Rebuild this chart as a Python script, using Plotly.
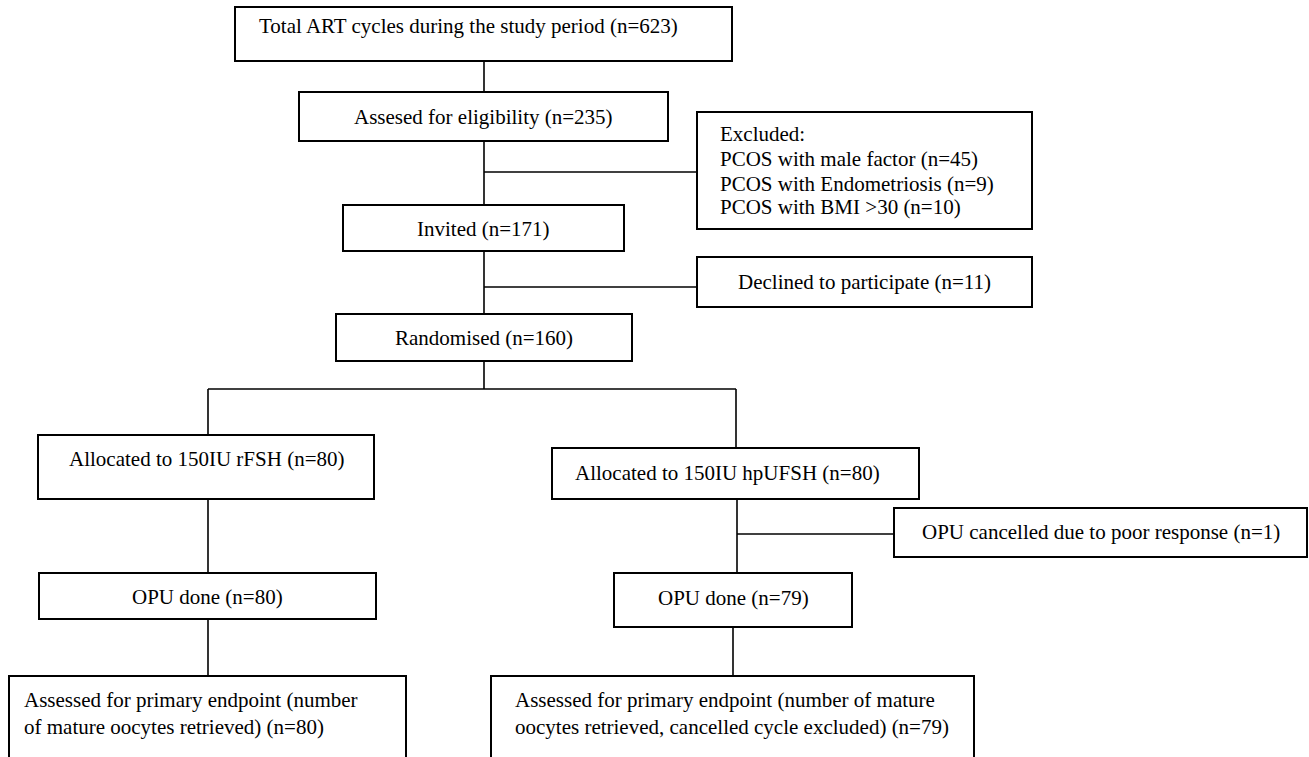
import plotly.graph_objects as go

# ---------------- data ----------------
stage_labels = [
    "Total ART cycles during the study period",
    "Assesed for eligibility",
    "Invited",
    "Randomised",
    "Allocated to 150IU rFSH",
    "Allocated to 150IU hpUFSH",
    "OPU done",
    "OPU done",
]
stage_counts = [623, 235, 171, 160, 80, 80, 80, 79]

excluded_title = "Excluded:"
excluded_labels = ["PCOS with male factor", "PCOS with Endometriosis", "PCOS with BMI >30"]
excluded_counts = [45, 9, 10]

declined_label = "Declined to participate"
declined_count = 11

cancelled_label = "OPU cancelled due to poor response"
cancelled_count = 1

endpoint_lines_left = ["Assessed for primary endpoint (number",
                       "of mature oocytes retrieved)"]
endpoint_count_left = 80
endpoint_lines_right = ["Assessed for primary endpoint (number of mature",
                        "oocytes retrieved, cancelled cycle excluded)"]
endpoint_count_right = 79

# ---------------- layout geometry (positions, not data) ----------------
W, H = 1309, 757
stage_boxes = [
    (235, 7, 732, 61),
    (299, 92, 668, 141),
    (343, 205, 624, 251),
    (336, 314, 632, 361),
    (38, 435, 374, 499),
    (552, 448, 919, 499),
    (39, 573, 376, 619),
    (614, 573, 852, 627),
]
stage_text_pos = [  # (x, y, anchor)
    (257, 26, "left"),
    (483.5, 117, "center"),
    (483.5, 229, "center"),
    (484, 338, "center"),
    (206, 459, "center"),
    (727, 473, "center"),
    (207.5, 597, "center"),
    (733, 598, "center"),
]
excluded_box = (697, 112, 1032, 229)
excluded_text_x = 718
excluded_text_y = [134, 159, 184, 207]
declined_box = (697, 257, 1032, 307)
declined_text = (864.5, 282)
cancelled_box = (894, 508, 1307, 557)
cancelled_text = (1100.5, 532)
endpoint_box_left = (9, 676, 406, 765)
endpoint_box_right = (491, 676, 974, 765)
endpoint_text_left_x = 22
endpoint_text_right_x = 513
endpoint_text_y = [700, 727]

connectors = [
    ((484, 61), (484, 92)),
    ((484, 141), (484, 205)),
    ((484, 172), (697, 172)),
    ((484, 251), (484, 314)),
    ((484, 287), (697, 287)),
    ((484, 361), (484, 389)),
    ((208, 389), (736, 389)),
    ((208, 389), (208, 435)),
    ((736, 389), (736, 448)),
    ((208, 499), (208, 573)),
    ((208, 619), (208, 676)),
    ((737, 499), (737, 573)),
    ((737, 534), (894, 534)),
    ((733, 627), (733, 676)),
]

FONT = dict(family="Liberation Serif, Times New Roman, serif", size=21, color="black")
BOX_LINE = dict(color="black", width=2)
CONN_LINE = dict(color="black", width=1.6)

fig = go.Figure()
shapes = []
annotations = []


def add_box(b):
    x0, y0, x1, y1 = b
    shapes.append(dict(type="rect", xref="x", yref="y", x0=x0, y0=y0, x1=x1, y1=y1,
                       line=BOX_LINE, fillcolor="rgba(0,0,0,0)", layer="above"))


def add_text(text, x, y, anchor="center"):
    annotations.append(dict(xref="x", yref="y", x=x, y=y, text=text, showarrow=False,
                            xanchor=anchor, yanchor="middle", font=FONT, align=anchor))


for (p0, p1) in connectors:
    shapes.append(dict(type="line", xref="x", yref="y", x0=p0[0], y0=p0[1],
                       x1=p1[0], y1=p1[1], line=CONN_LINE, layer="above"))

for lbl, n, box, (tx, ty, anc) in zip(stage_labels, stage_counts, stage_boxes, stage_text_pos):
    add_box(box)
    add_text(f"{lbl} (n={n})", tx, ty, anc)

add_box(excluded_box)
add_text(excluded_title, excluded_text_x, excluded_text_y[0], "left")
for lbl, n, ty in zip(excluded_labels, excluded_counts, excluded_text_y[1:]):
    add_text(f"{lbl} (n={n})", excluded_text_x, ty, "left")

add_box(declined_box)
add_text(f"{declined_label} (n={declined_count})", *declined_text)

add_box(cancelled_box)
add_text(f"{cancelled_label} (n={cancelled_count})", *cancelled_text)

add_box(endpoint_box_left)
add_text(endpoint_lines_left[0], endpoint_text_left_x, endpoint_text_y[0], "left")
add_text(f"{endpoint_lines_left[1]} (n={endpoint_count_left})", endpoint_text_left_x,
         endpoint_text_y[1], "left")

add_box(endpoint_box_right)
add_text(endpoint_lines_right[0], endpoint_text_right_x, endpoint_text_y[0], "left")
add_text(f"{endpoint_lines_right[1]} (n={endpoint_count_right})", endpoint_text_right_x,
         endpoint_text_y[1], "left")

fig.update_layout(
    width=W, height=H,
    margin=dict(l=0, r=0, t=0, b=0),
    paper_bgcolor="white", plot_bgcolor="white",
    xaxis=dict(range=[0, W], visible=False, fixedrange=True),
    yaxis=dict(range=[H, 0], visible=False, fixedrange=True),
    shapes=shapes, annotations=annotations, showlegend=False,
)

fig.write_html("out.html", config={"displayModeBar": False},
               post_script="document.body.style.margin='0';document.body.style.overflow='hidden';")
